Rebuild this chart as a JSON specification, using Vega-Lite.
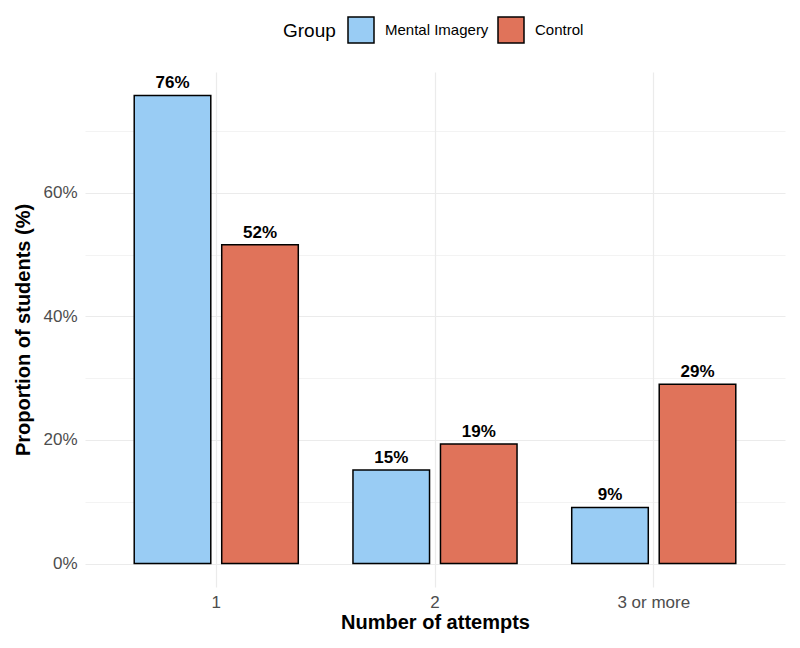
{
  "$schema": "https://vega.github.io/schema/vega-lite/v6.json",
  "autosize": {"type": "none"},
  "padding": {"left": 85, "top": 72, "right": 15, "bottom": 61},
  "width": 700,
  "height": 515,
  "background": "white",
  "data": {
    "values": [
      {"attempts": "1", "group": "Mental Imagery", "proportion": 0.7576},
      {"attempts": "1", "group": "Control", "proportion": 0.5161},
      {"attempts": "2", "group": "Mental Imagery", "proportion": 0.1515},
      {"attempts": "2", "group": "Control", "proportion": 0.1935},
      {"attempts": "3 or more", "group": "Mental Imagery", "proportion": 0.0909},
      {"attempts": "3 or more", "group": "Control", "proportion": 0.2903}
    ]
  },
  "config": {
    "view": {"stroke": null},
    "font": "Liberation Sans",
    "axis": {"domain": false, "ticks": false, "labelColor": "#4D4D4D", "labelFontSize": 17, "titleFontSize": 20, "titleFontWeight": "bold", "titleColor": "black", "gridColor": "#EBEBEB"}
  },
  "encoding": {
    "x": {
      "field": "attempts", "type": "nominal", "sort": ["1", "2", "3 or more"],
      "scale": {"paddingInner": 0.2, "paddingOuter": 0.2},
      "axis": {"title": "Number of attempts", "labelAngle": 0, "grid": true, "gridWidth": 1.2, "labelPadding": 7, "titlePadding": 2, "bandPosition": 0.5}
    },
    "xOffset": {
      "field": "group", "type": "nominal", "sort": ["Mental Imagery", "Control"],
      "scale": {"paddingInner": 0.125, "paddingOuter": 0.0625}
    }
  },
  "layer": [
    {
      "mark": {"type": "bar", "stroke": "black", "strokeWidth": 1.5},
      "encoding": {
        "y": {
          "field": "proportion", "type": "quantitative",
          "scale": {"domain": [-0.0379, 0.7955], "nice": false, "zero": false},
          "axis": {
            "title": "Proportion of students (%)",
            "values": [0, 0.1, 0.2, 0.3, 0.4, 0.5, 0.6, 0.7],
            "format": ".0%",
            "labelExpr": "round(datum.value * 100) % 20 === 0 ? datum.label : ''",
            "gridWidth": {"condition": {"test": "round(datum.value * 100) % 20 === 0", "value": 1.2}, "value": 0.6},
            "labelPadding": 8,
            "titlePadding": 9
          }
        },
        "y2": {"datum": 0},
        "color": {
          "field": "group", "type": "nominal",
          "scale": {"domain": ["Mental Imagery", "Control"], "range": ["#99CCF4", "#E0735A"]},
          "legend": {
            "title": "Group",
            "orient": "none",
            "direction": "horizontal",
            "legendX": 198,
            "legendY": -56,
            "titleOrient": "left",
            "titleFontSize": 19,
            "titleFontWeight": "normal",
            "titleColor": "black",
            "titlePadding": 11,
            "labelFontSize": 15,
            "labelColor": "black",
            "symbolType": "square",
            "symbolSize": 676,
            "symbolStrokeColor": "black",
            "symbolStrokeWidth": 1.5,
            "symbolOpacity": 1,
            "columnPadding": 6,
            "labelOffset": 10
          }
        }
      }
    },
    {
      "mark": {"type": "text", "baseline": "bottom", "dy": -3, "fontSize": 17, "fontWeight": "bold", "color": "black"},
      "encoding": {
        "y": {"field": "proportion", "type": "quantitative"},
        "text": {"field": "proportion", "type": "quantitative", "format": ".0%"}
      }
    }
  ]
}
